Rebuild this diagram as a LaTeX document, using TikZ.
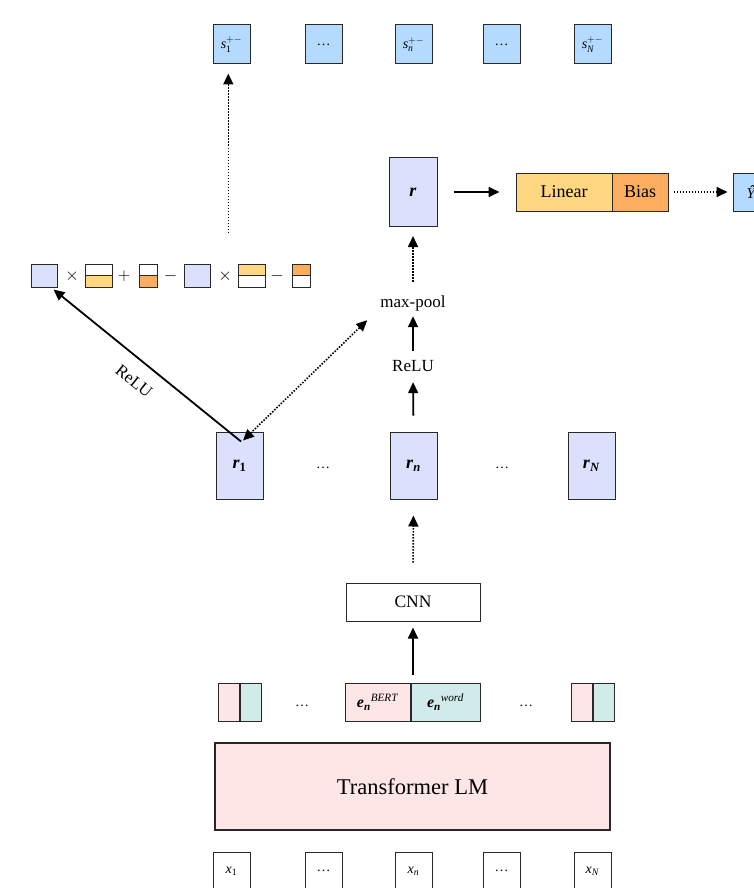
\documentclass[tikz,border=0pt]{standalone}
\usepackage{amsmath}
\usepackage{fontspec}
\setmainfont{Liberation Serif}
\usetikzlibrary{arrows.meta,calc}
\definecolor{lav}{RGB}{219,225,252}
\definecolor{sky}{RGB}{180,219,255}
\definecolor{lin}{RGB}{254,215,128}
\definecolor{bias}{RGB}{252,173,94}
\definecolor{rose}{RGB}{253,230,229}
\definecolor{mint}{RGB}{208,235,234}
\definecolor{edge}{RGB}{40,40,40}
\tikzset{
  box/.style={draw=edge, line width=1pt, inner sep=0pt, anchor=center},
  lbl/.style={inner sep=0pt, anchor=center},
  tip/.style={-{Triangle[length=11pt,width=10pt]}},
  solidarrow/.style={tip, line width=1.8pt},
  dotarrow/.style={tip, line width=1.6pt, dash pattern=on 1.5pt off 1.5pt},
}
\newcommand{\dd}{\textellipsis}
\begin{document}
\begin{tikzpicture}[x=1pt,y=-1pt]
\useasboundingbox (0,0) rectangle (753,888);

% output scores
\foreach \n/\x/\t in {s1/231.5/{$\textit{s}_{\textup{1}}^{+-}$}, sd1/323.5/{\dd}, sn/413.5/{$\textit{s}_{\textit{n}}^{+-}$}, sd2/501.5/{\dd}, sN/592.5/{$\textit{s}_{\textit{N}}^{+-}$}}
  \node[box, fill=sky, minimum width=37pt, minimum height=39pt, font=\fontsize{14}{16}\selectfont] (\n) at (\x,44.5) {\t};

% pooled representation and classifier
\node[box, fill=lav, minimum width=48pt, minimum height=69pt, font=\fontsize{18}{21}\selectfont] (r) at (413,192) {\textbf{\textit{r}}};
\node[box, fill=lin, minimum width=96pt, minimum height=38pt, font=\fontsize{18}{21}\selectfont] (lin) at (564,192) {Linear};
\node[box, fill=bias, minimum width=56pt, minimum height=38pt, font=\fontsize{18}{21}\selectfont] (bias) at (640,192) {Bias};
\node[box, fill=sky, minimum width=37pt, minimum height=38pt, font=\fontsize{15}{18}\selectfont] (yhat) at (751.5,192) {\textit{Ŷ}};

\draw[solidarrow] ([xshift=16pt]r.east) -- ([xshift=-16pt]lin.west);
\draw[dotarrow] ([xshift=5pt]bias.east) -- ([xshift=-5pt]yhat.west);

% pooling stack
\node[lbl, minimum height=20pt, font=\fontsize{17}{20}\selectfont] (pool) at (413,303) {max-pool};
\node[lbl, minimum height=20pt, font=\fontsize{17}{20}\selectfont] (relu) at (413,366) {ReLU};

% token representations
\node[box, fill=lav, minimum width=47pt, minimum height=67pt, font=\fontsize{18}{21}\selectfont] (r1) at (239.5,465.5) {\textbf{\textit{r}}\textsubscript{\textbf{1}}};
\node[box, fill=lav, minimum width=47pt, minimum height=67pt, font=\fontsize{18}{21}\selectfont] (rn) at (413.5,465.5) {\textbf{\textit{r}}\textsubscript{\textbf{\textit{n}}}};
\node[box, fill=lav, minimum width=47pt, minimum height=67pt, font=\fontsize{18}{21}\selectfont] (rN) at (591.5,465.5) {\textbf{\textit{r}}\textsubscript{\textbf{\textit{N}}}};
\node[lbl, font=\fontsize{14}{16}\selectfont] (rd1) at (323,468) {\dd};
\node[lbl, font=\fontsize{14}{16}\selectfont] (rd2) at (502,468) {\dd};

\draw[dotarrow, shorten <=11pt, shorten >=9pt] (pool.north) -- (r.south);
\draw[solidarrow, shorten <=5pt, shorten >=3pt] (relu.north) -- (pool.south);
\draw[solidarrow, shorten <=16pt, shorten >=6pt] (rn.north) -- (relu.south);

% CNN
\node[box, fill=white, minimum width=134pt, minimum height=38pt, font=\fontsize{17.5}{20}\selectfont] (cnn) at (413,602) {CNN};
\draw[dotarrow, shorten <=20pt, shorten >=16pt] (cnn.north) -- (rn.south);

% embeddings
\node[box, fill=rose, minimum width=21pt, minimum height=38pt] (p1) at (228.5,702) {};
\node[box, fill=mint, minimum width=21pt, minimum height=38pt] (m1) at (250.5,702) {};
\node[box, fill=rose, minimum width=65pt, minimum height=38pt, font=\fontsize{16}{19}\selectfont] (bert) at (377.5,702) {$\textbf{\textit{e}}_{\textbf{\textit{n}}}{}^{\textit{BERT}}$};
\node[box, fill=mint, minimum width=69pt, minimum height=38pt, font=\fontsize{16}{19}\selectfont] (word) at (445.5,702) {$\textbf{\textit{e}}_{\textbf{\textit{n}}}{}^{\textit{word}}$};
\node[box, fill=rose, minimum width=21pt, minimum height=38pt] (pN) at (581.5,702) {};
\node[box, fill=mint, minimum width=21pt, minimum height=38pt] (mN) at (603.5,702) {};
\node[lbl, font=\fontsize{14}{16}\selectfont] (ed1) at (302,706) {\dd};
\node[lbl, font=\fontsize{14}{16}\selectfont] (ed2) at (526,706) {\dd};

\draw[solidarrow, shorten <=8pt, shorten >=6pt] (cnn.south |- bert.north) -- (cnn.south);

% encoder
\node[box, fill=rose, line width=1.6pt, minimum width=395pt, minimum height=87pt, font=\fontsize{22.5}{27}\selectfont] (lm) at (412.5,786.5) {Transformer LM};

% input tokens
\foreach \n/\x/\t in {x1/231.5/{\textit{x}\textsubscript{1}}, xd1/323.5/{\dd}, xn/413.5/{\textit{x}\textsubscript{\textit{n}}}, xd2/501.5/{\dd}, xN/592.5/{\textit{x}\textsubscript{\textit{N}}}}
  \node[box, fill=white, minimum width=37pt, minimum height=38pt, font=\fontsize{14}{16}\selectfont] (\n) at (\x,871) {\t};

% score expression
\node[box, fill=lav, minimum width=26pt, minimum height=23pt] (f1) at (44,275.5) {};
\node[lbl, font=\fontsize{18}{20}\selectfont] (o1) at (72,276) {$\times$};
\node[box, fill=white, minimum width=27pt, minimum height=11.5pt] (f2t) at (98.5,270) {};
\node[box, fill=lin, minimum width=27pt, minimum height=11.5pt] (f2b) at (98.5,281.5) {};
\node[lbl, font=\fontsize{18}{20}\selectfont] (o2) at (124,276) {$+$};
\node[box, fill=white, minimum width=18pt, minimum height=11.5pt] (f3t) at (148,270) {};
\node[box, fill=bias, minimum width=18pt, minimum height=11.5pt] (f3b) at (148,281.5) {};
\node[lbl, font=\fontsize{18}{20}\selectfont] (o3) at (170.5,276) {$-$};
\node[box, fill=lav, minimum width=26pt, minimum height=23pt] (f4) at (197,275.5) {};
\node[lbl, font=\fontsize{18}{20}\selectfont] (o4) at (225,276) {$\times$};
\node[box, fill=lin, minimum width=27pt, minimum height=11.5pt] (f5t) at (251.5,270) {};
\node[box, fill=white, minimum width=27pt, minimum height=11.5pt] (f5b) at (251.5,281.5) {};
\node[lbl, font=\fontsize{18}{20}\selectfont] (o5) at (277,276) {$-$};
\node[box, fill=bias, minimum width=18pt, minimum height=11.5pt] (f6t) at (301.5,270) {};
\node[box, fill=white, minimum width=18pt, minimum height=11.5pt] (f6b) at (301.5,281.5) {};

% connectors around the expression
\coordinate (sfrom) at (228.3,233);
\draw[dotarrow, shorten >=9pt] (sfrom) -- (sfrom |- s1.south);

\coordinate (r1in) at ($(r1.north)+(1.5,10)$);
\coordinate (f1tip) at ($(f1.south east)+(-4,2)$);
\draw[solidarrow] (r1in) -- (f1tip);
\node[lbl, rotate=-39, font=\fontsize{17}{20}\selectfont] (relulbl) at (134,381) {ReLU};

\coordinate (pooltip) at ($(pool.south west)+(-13,7)$);
\draw[dotarrow, {Triangle[length=11pt,width=10pt]}-{Triangle[length=11pt,width=10pt]}] ($(r1.north)+(3.5,9)$) -- (pooltip);
\end{tikzpicture}
\end{document}
